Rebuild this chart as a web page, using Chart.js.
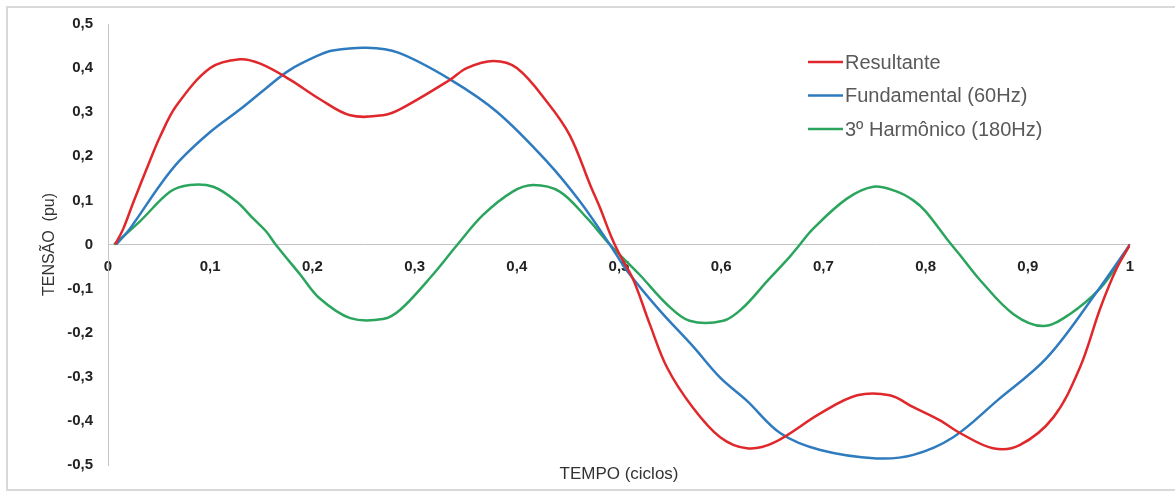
<!DOCTYPE html>
<html>
<head>
<meta charset="utf-8">
<script src="https://cdn.jsdelivr.net/npm/chart.js@4.4.0/dist/chart.umd.min.js"></script>
<style>
  html, body { margin: 0; padding: 0; background: #fff; }
  #wrap { width: 1175px; height: 495px; }
</style>
</head>
<body>
<div id="wrap"><canvas id="ondas" width="1175" height="495"></canvas></div>
<script>
// tempo (ciclos) / tensão (pu)
const tempoResultante = [0.007, 0.015, 0.025, 0.041, 0.051, 0.067, 0.1, 0.129, 0.149, 0.178, 0.207, 0.237, 0.269, 0.286, 0.335, 0.351, 0.377, 0.4, 0.43, 0.452, 0.472, 0.482, 0.492, 0.5, 0.514, 0.53, 0.547, 0.572, 0.599, 0.625, 0.651, 0.697, 0.733, 0.765, 0.788, 0.814, 0.834, 0.866, 0.892, 0.925, 0.951, 0.971, 0.987, 1.0];
const resultante = [0, 0.036, 0.097, 0.19, 0.245, 0.315, 0.40, 0.42, 0.41, 0.374, 0.33, 0.293, 0.293, 0.307, 0.374, 0.40, 0.416, 0.40, 0.322, 0.247, 0.134, 0.08, 0.02, -0.02, -0.08, -0.18, -0.279, -0.369, -0.437, -0.462, -0.45, -0.383, -0.342, -0.342, -0.369, -0.399, -0.428, -0.462, -0.455, -0.392, -0.279, -0.144, -0.054, 0];

const tempoFundamental = [0.008, 0.0215, 0.051, 0.07, 0.1, 0.129, 0.155, 0.178, 0.207, 0.22, 0.253, 0.284, 0.335, 0.381, 0.43, 0.462, 0.491, 0.508, 0.54, 0.572, 0.599, 0.625, 0.658, 0.697, 0.752, 0.788, 0.827, 0.87, 0.919, 0.968, 1.0];
const fundamental = [0, 0.036, 0.135, 0.19, 0.255, 0.306, 0.355, 0.396, 0.43, 0.44, 0.446, 0.435, 0.374, 0.30, 0.187, 0.097, 0, -0.06, -0.15, -0.23, -0.302, -0.354, -0.428, -0.466, -0.485, -0.477, -0.437, -0.354, -0.256, -0.106, 0];

const tempoHarmonico = [0.006, 0.031, 0.061, 0.08, 0.103, 0.126, 0.142, 0.155, 0.164, 0.188, 0.207, 0.237, 0.269, 0.286, 0.318, 0.342, 0.367, 0.396, 0.416, 0.442, 0.469, 0.491, 0.52, 0.547, 0.569, 0.602, 0.621, 0.645, 0.667, 0.677, 0.69, 0.723, 0.749, 0.772, 0.788, 0.80, 0.821, 0.834, 0.853, 0.886, 0.915, 0.941, 0.971, 0.99, 1.0];
const harmonico = [0, 0.052, 0.12, 0.135, 0.131, 0.097, 0.059, 0.029, 0, -0.068, -0.122, -0.167, -0.169, -0.148, -0.068, 0, 0.067, 0.12, 0.135, 0.12, 0.059, 0, -0.068, -0.136, -0.173, -0.173, -0.144, -0.083, -0.028, 0, 0.036, 0.104, 0.131, 0.12, 0.10, 0.075, 0.012, -0.025, -0.08, -0.158, -0.185, -0.158, -0.099, -0.038, 0];

const nomes = ['Resultante', 'Fundamental (60Hz)', '3º Harmônico (180Hz)'];
const cores = ['#e0282c', '#2f7bbf', '#2ba55d'];

function pares(xs, ys) {
  return xs.map((x, i) => ({ x: x, y: ys[i] }));
}

function virgula(v) {
  const r = Math.round(v * 10) / 10;
  if (r === 0) return '0';
  return r.toFixed(Number.isInteger(r) ? 0 : 1).replace('.', ',');
}

// moldura cinza clara como no original
const moldura = {
  id: 'moldura',
  beforeDraw(chart) {
    const c = chart.ctx;
    c.save();
    c.fillStyle = '#fff';
    c.fillRect(0, 0, chart.width, chart.height);
    c.strokeStyle = '#d9d9d9';
    c.lineWidth = 2;
    c.beginPath();
    c.moveTo(chart.width + 2, 7);
    c.lineTo(7, 7);
    c.lineTo(7, 490);
    c.lineTo(chart.width + 2, 490);
    c.stroke();
    c.restore();
  }
};

// legenda dentro da área do gráfico, canto superior direito
const legenda = {
  id: 'legenda',
  afterDraw(chart) {
    const c = chart.ctx;
    c.save();
    c.font = "20px 'Liberation Sans', Arial, sans-serif";
    c.textBaseline = 'middle';
    c.textAlign = 'left';
    chart.data.datasets.forEach((ds, i) => {
      const y = 62 + i * 33.5;
      c.strokeStyle = ds.borderColor;
      c.lineWidth = 2.5;
      c.beginPath();
      c.moveTo(808, y);
      c.lineTo(843, y);
      c.stroke();
      c.fillStyle = '#595959';
      c.fillText(ds.label, 845, y + 1);
    });
    c.restore();
  }
};

const series = [
  pares(tempoResultante, resultante),
  pares(tempoFundamental, fundamental),
  pares(tempoHarmonico, harmonico)
];

new Chart(document.getElementById('ondas'), {
  type: 'line',
  data: {
    datasets: series.map((pts, i) => ({
      label: nomes[i],
      data: pts,
      borderColor: cores[i],
      backgroundColor: cores[i],
      borderWidth: 2.5,
      pointRadius: 0,
      tension: 0.35,
      fill: false
    }))
  },
  options: {
    responsive: false,
    animation: false,
    devicePixelRatio: 1,
    layout: { padding: { left: 8, right: 45, top: 21, bottom: 0 } },
    plugins: {
      legend: { display: false },
      tooltip: { enabled: false }
    },
    scales: {
      x: {
        type: 'linear',
        min: 0,
        max: 1,
        position: { y: 0 },
        grid: { display: false, drawTicks: false },
        border: { display: true, color: '#c4c4c4', width: 1 },
        ticks: {
          stepSize: 0.1,
          padding: 13,
          color: '#222',
          font: { family: "'Liberation Sans', Arial, sans-serif", size: 15, weight: 'bold' },
          maxRotation: 0,
          callback: v => virgula(v)
        }
      },
      x2: {
        type: 'linear',
        position: 'bottom',
        min: 0,
        max: 1,
        grid: { display: false, drawTicks: false },
        border: { display: false },
        ticks: { display: false },
        title: {
          display: true,
          text: 'TEMPO (ciclos)',
          color: '#333',
          padding: { top: 0, bottom: 10 },
          font: { family: "'Liberation Sans', Arial, sans-serif", size: 17 }
        },
        afterFit: s => { s.height = 30; }
      },
      y: {
        min: -0.5,
        max: 0.5,
        grid: { display: false, drawTicks: false },
        border: { display: true, color: '#c4c4c4', width: 1 },
        ticks: {
          stepSize: 0.1,
          padding: 15,
          color: '#222',
          font: { family: "'Liberation Sans', Arial, sans-serif", size: 15, weight: 'bold' },
          callback: v => virgula(v)
        },
        title: {
          display: true,
          text: 'TENSÃO  (pu)',
          color: '#333',
          padding: { top: 32, bottom: 0 },
          font: { family: "'Liberation Sans', Arial, sans-serif", size: 16 }
        },
        afterFit: s => { s.width = 100; }
      }
    }
  },
  plugins: [moldura, legenda]
});
</script>
</body>
</html>
